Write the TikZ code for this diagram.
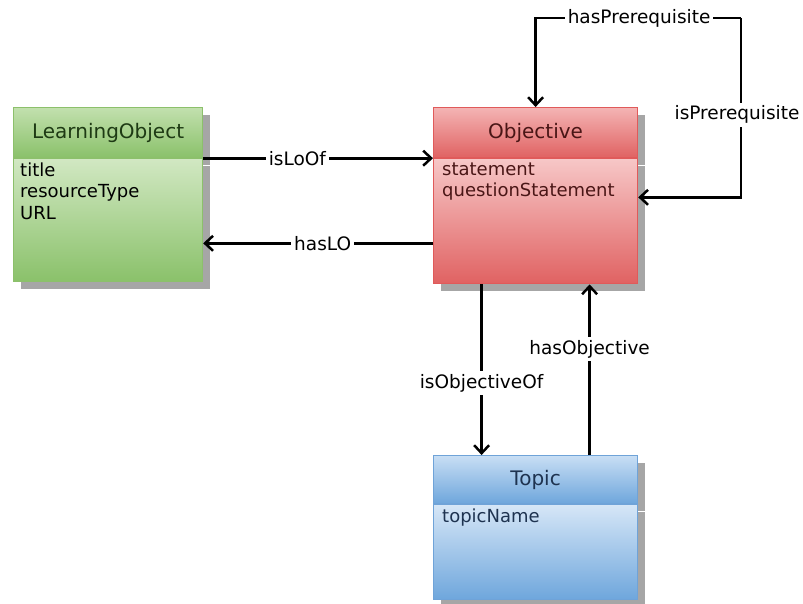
\documentclass[tikz,border=0pt]{standalone}
\usepackage{fontspec}
\setmainfont{DejaVu Sans}
\usetikzlibrary{arrows.meta,shadows,positioning}
\definecolor{loedge}{HTML}{8CC06B}
\definecolor{lotop}{HTML}{C2E0AE}
\definecolor{lobot}{HTML}{8AC16A}
\definecolor{lotext}{HTML}{1E3A14}
\definecolor{obedge}{HTML}{E05A5A}
\definecolor{obtop}{HTML}{F4B4B4}
\definecolor{obbot}{HTML}{E06262}
\definecolor{obtext}{HTML}{4A1616}
\definecolor{tpedge}{HTML}{6FA3D8}
\definecolor{tptop}{HTML}{C8DEF4}
\definecolor{tpbot}{HTML}{6EA6DC}
\definecolor{tptext}{HTML}{1E3350}
\tikzset{
  classbox/.style = {shape=rectangle, draw, line width=1.2pt,
                     anchor=north west, inner sep=0pt,
                     drop shadow={shadow xshift=7pt, shadow yshift=-7pt,
                                  fill=black!35, opacity=1}},
  classhead/.style = {
    classbox,
    font=\fontsize{20}{24}\selectfont
    },
  attrs/.style = {
    anchor=north west, align=left, inner sep=0pt,
    font=\fontsize{18}{21.5}\selectfont
    },
  rel/.style = {
    line width=2.8pt,
    -{Straight Barb[length=8pt,width=15pt,line width=2.5pt]}
    },
  lbl/.style = {
    fill=white, inner sep=3pt,
    font=\fontsize{18.5}{22}\selectfont
    }
}
\begin{document}
\begin{tikzpicture}[x=1pt, y=-1pt]
    \useasboundingbox (0,0) rectangle (803,603);
    % LearningObject
    \node [classhead, draw=loedge, text=lotext, top color=lotop, bottom color=lobot,
           minimum width=189pt, minimum height=50pt] (lo) at (13,107) {LearningObject};
    \node [classbox, draw=loedge, top color=lotop!75!white, bottom color=lobot,
           minimum width=189pt, minimum height=123pt] (lobody) at (lo.south west) {};
    \node [attrs] (loattr) at ([xshift=7pt, yshift=-4pt]lobody.north west)
        {title\\resourceType\\URL};
    % Objective
    \node [classhead, draw=obedge, text=obtext, top color=obtop, bottom color=obbot,
           minimum width=204pt, minimum height=50pt] (ob) at (433,107) {Objective};
    \node [classbox, draw=obedge, top color=obtop!75!white, bottom color=obbot,
           minimum width=204pt, minimum height=125pt] (obbody) at (ob.south west) {};
    \node [attrs, text=obtext] (obattr) at ([xshift=9pt, yshift=-4pt]obbody.north west)
        {statement\\questionStatement};
    % Topic
    \node [classhead, draw=tpedge, text=tptext, top color=tptop, bottom color=tpbot,
           minimum width=204pt, minimum height=48pt] (tp) at (433,455) {Topic};
    \node [classbox, draw=tpedge, top color=tptop!75!white, bottom color=tpbot,
           minimum width=204pt, minimum height=95pt] (tpbody) at (tp.south west) {};
    \node [attrs, text=tptext] (tpattr) at ([xshift=9pt, yshift=-4pt]tpbody.north west)
        {topicName};
    % relations
    \coordinate (loop) at (741,18);
    \draw [rel] (lo.south east) -- node [lbl, pos=0.41] {isLoOf} (ob.south west);
    \draw [rel] ([yshift=-22pt]obbody.west) -- node [lbl, pos=0.48] {hasLO}
        ([yshift=-22pt]obbody.west -| lobody.east);
    \draw [rel] (loop) -| node [lbl, pos=0.248] {hasPrerequisite} (ob.north);
    \draw [rel] (loop) |- node [lbl, pos=0.27, xshift=-4pt, inner xsep=1pt] {isPrerequisite}
        ([yshift=24pt]obbody.east);
    \draw [rel] ([xshift=-54pt]obbody.south) -- node [lbl, pos=0.58] {isObjectiveOf}
        ([xshift=-54pt]tp.north);
    \draw [rel] ([xshift=54pt]tp.north) -- node [lbl, pos=0.62] {hasObjective}
        ([xshift=54pt]obbody.south);
\end{tikzpicture}
\end{document}
